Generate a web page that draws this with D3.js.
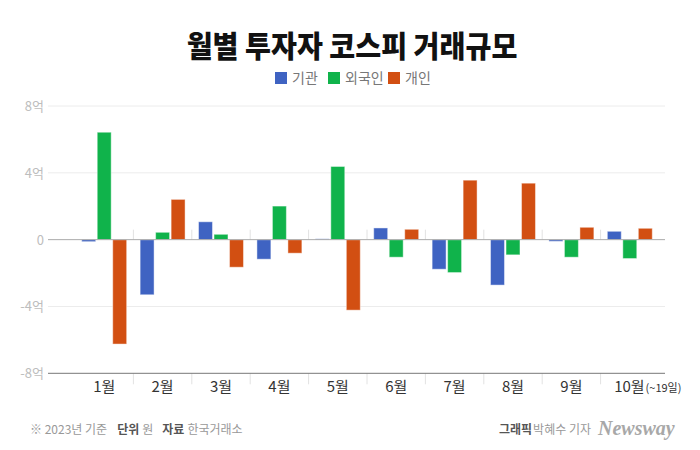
<!DOCTYPE html>
<html>
<head>
    <meta charset="utf-8">
    <title>월별 투자자 코스피 거래규모</title>
    <script src="https://cdn.jsdelivr.net/npm/d3@7"></script>
    <style>
        body { margin: 0; background: #fff; }
        svg text { font-family: "Noto Sans CJK KR", "Noto Sans", sans-serif; }
    </style>
</head>
<body>
    <div id="chart"></div>
    <script>
        // values in 억
        const months = ["1월", "2월", "3월", "4월", "5월", "6월", "7월", "8월", "9월", "10월"];
        const series = ["기관", "외국인", "개인"];
        const colors = ["#3f63c2", "#10b34b", "#d24f12"];
        const inst = [-0.12, -3.3, 1.07, -1.17, 0.05, 0.70, -1.77, -2.72, -0.10, 0.50];
        const foreign = [6.43, 0.44, 0.32, 2.01, 4.38, -1.05, -1.97, -0.91, -1.05, -1.13];
        const indiv = [-6.25, 2.41, -1.65, -0.81, -4.22, 0.62, 3.56, 3.38, 0.74, 0.68];
        const yTicks = [8, 4, 0, -4, -8];

        const data = months.map((m, i) => ({ month: m, values: [inst[i], foreign[i], indiv[i]] }));

        const W = 700, H = 450;
        const svg = d3.select("#chart").append("svg")
            .attr("width", W).attr("height", H);

        // title (slightly condensed like the original)
        svg.append("text")
            .attr("transform", "translate(352,57) scale(0.94,1)")
            .attr("text-anchor", "middle")
            .attr("font-size", 30).attr("font-weight", 900)
            .attr("fill", "#111")
            .text("월별 투자자 코스피 거래규모");

        // legend
        const legendX = [275, 328, 388];
        series.forEach((s, i) => {
            const g = svg.append("g").attr("transform", `translate(${legendX[i]}, 72)`);
            g.append("rect").attr("width", 12).attr("height", 12).attr("fill", colors[i]);
            g.append("text").attr("x", 17).attr("y", 11)
                .attr("font-size", 14).attr("fill", "#777").text(s);
        });

        const y = d3.scaleLinear().domain([-8, 8]).range([373.3, 106]);
        const x = d3.scaleBand().domain(months).range([75, 659]);
        const x1 = d3.scaleBand().domain(series).range([0, x.bandwidth()])
            .paddingInner(0.1).paddingOuter(0.434);

        // gridlines
        svg.append("g").selectAll("line")
            .data(yTicks.filter(t => t !== 0 && t !== -8))
            .join("line")
            .attr("x1", 48).attr("x2", 665)
            .attr("y1", d => y(d)).attr("y2", d => y(d))
            .attr("stroke", "#ececec");

        // y axis labels
        svg.append("g").selectAll("text")
            .data(yTicks)
            .join("text")
            .attr("x", 44).attr("y", d => y(d) + 5)
            .attr("text-anchor", "end")
            .attr("font-size", 13).attr("fill", "#bdbdbd")
            .text(d => d === 0 ? "0" : d + "억");

        // separators between months
        const seps = months.slice(1).map(m => x(m));
        svg.append("g").selectAll("line")
            .data(seps)
            .join("line")
            .attr("x1", d => d).attr("x2", d => d)
            .attr("y1", y(0) - 10).attr("y2", y(0))
            .attr("stroke", "#e2e2e2");
        svg.append("g").selectAll("line")
            .data(seps)
            .join("line")
            .attr("x1", d => d).attr("x2", d => d)
            .attr("y1", y(-8)).attr("y2", y(-8) + 11)
            .attr("stroke", "#e2e2e2");

        // bars
        const groups = svg.append("g").selectAll("g")
            .data(data)
            .join("g")
            .attr("transform", d => `translate(${x(d.month)},0)`);
        groups.selectAll("rect")
            .data(d => d.values.map((v, i) => ({ key: series[i], v, i })))
            .join("rect")
            .attr("x", d => x1(d.key))
            .attr("width", x1.bandwidth())
            .attr("y", d => y(Math.max(0, d.v)))
            .attr("height", d => Math.abs(y(d.v) - y(0)))
            .attr("fill", d => colors[d.i])
            .attr("stroke", "rgba(255,255,255,0.45)")
            .attr("stroke-width", 1);

        // zero line
        svg.append("line")
            .attr("x1", 48).attr("x2", 665)
            .attr("y1", y(0)).attr("y2", y(0))
            .attr("stroke", "#aaa").attr("stroke-width", 1);

        // bottom axis
        svg.append("line")
            .attr("x1", 48).attr("x2", 665)
            .attr("y1", y(-8)).attr("y2", y(-8))
            .attr("stroke", "#777").attr("stroke-width", 1);

        // x labels
        const xl = svg.append("g").selectAll("text")
            .data(months)
            .join("text")
            .attr("x", d => x(d) + x.bandwidth() / 2)
            .attr("y", 392)
            .attr("text-anchor", "middle")
            .attr("font-size", 15).attr("fill", "#333");
        xl.append("tspan").text(d => d);
        xl.filter(d => d === "10월").attr("x", d => x(d) + x.bandwidth() / 2 + 18)
            .append("tspan").attr("font-size", 11).attr("dx", 1).text("(~19일)");

        // footer left
        const fl = svg.append("text").attr("x", 30).attr("y", 434)
            .attr("font-size", 12).attr("fill", "#999");
        fl.append("tspan").text("※ 2023년 기준");
        fl.append("tspan").attr("dx", 10).attr("font-weight", 700).attr("fill", "#555").text("단위");
        fl.append("tspan").attr("dx", 3).text("원");
        fl.append("tspan").attr("dx", 9).attr("font-weight", 700).attr("fill", "#555").text("자료");
        fl.append("tspan").attr("dx", 3).text("한국거래소");

        // footer right
        const fr = svg.append("text").attr("x", 591).attr("y", 434)
            .attr("text-anchor", "end")
            .attr("font-size", 12).attr("fill", "#999");
        fr.append("tspan").attr("font-weight", 700).attr("fill", "#555").text("그래픽");
        fr.append("tspan").attr("dx", 1).text("박혜수 기자");
        svg.append("text").attr("x", 598).attr("y", 435)
            .style("font-family", "'Liberation Serif', serif")
            .attr("font-style", "italic").attr("font-weight", 700)
            .attr("font-size", 20).attr("fill", "#a8a8a8")
            .text("Newsway");
    </script>
</body>
</html>
